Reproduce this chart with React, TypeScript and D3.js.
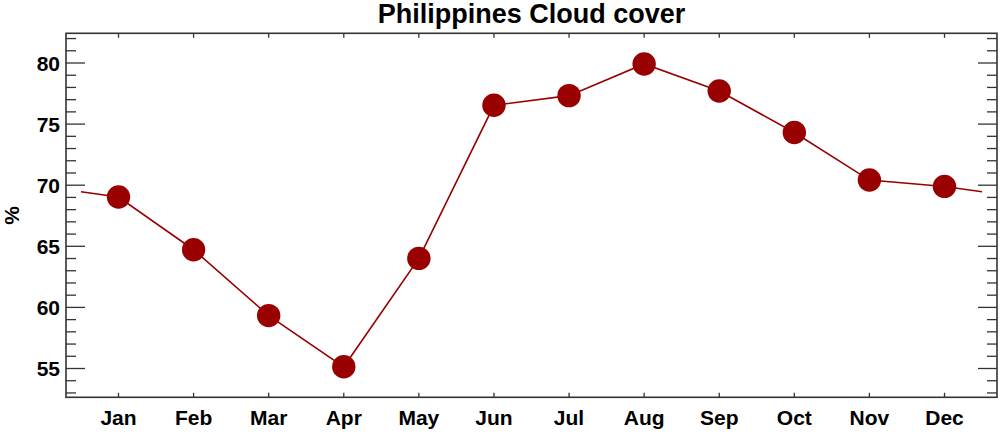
import React from "react";
import * as d3 from "d3";

const months = ["Jan", "Feb", "Mar", "Apr", "May", "Jun", "Jul", "Aug", "Sep", "Oct", "Nov", "Dec"];
const cloudCover = [69.03, 64.72, 59.33, 55.14, 64.01, 76.54, 77.33, 79.92, 77.71, 74.31, 70.42, 69.9];
const yMajorTicks = [55, 60, 65, 70, 75, 80];
const yMinorTicks = d3.range(53, 83, 1);
const title = "Philippines Cloud cover";
const yLabel = "%";

const W = 1000;
const H = 433;
const plot = { left: 66, right: 997, top: 33.3, bottom: 397.3 };
const font = "'Liberation Sans', Arial, Helvetica, sans-serif";
const red = "#990000";
const axisColor = "#333333";

export default function App() {
  const x = d3.scaleLinear().domain([0, 11]).range([118.5, 944.5]);
  const y = d3.scaleLinear().domain([55, 80]).range([368.5, 63]);

  const wrap = (cloudCover[0] + cloudCover[11]) / 2;
  const linePts: [number, number][] = [
    [-0.5, wrap],
    ...cloudCover.map((v, i) => [i, v] as [number, number]),
    [11.5, wrap],
  ];
  const line = d3
    .line<[number, number]>()
    .x((d) => x(d[0]))
    .y((d) => y(d[1]));

  return (
    <svg
      width={W}
      height={H}
      style={{ position: "absolute", left: 0, top: 0, background: "#fff" }}
      fontFamily={font}
    >
      <rect x={0} y={0} width={W} height={H} fill="#fff" />
      <text
        x={(plot.left + plot.right) / 2}
        y={22.5}
        textAnchor="middle"
        fontSize={27}
        fontWeight="bold"
        fill="#000"
      >
        {title}
      </text>

      {/* y ticks left & right */}
      {yMinorTicks.map((t) => {
        const major = t % 5 === 0;
        const len = major ? 19 : 10;
        const yy = y(t);
        return (
          <g key={"yt" + t}>
            <line x1={plot.left} x2={plot.left + len} y1={yy} y2={yy} stroke={axisColor} strokeWidth={1.3} />
            <line x1={plot.right} x2={plot.right - len} y1={yy} y2={yy} stroke={axisColor} strokeWidth={1.3} />
          </g>
        );
      })}
      {yMajorTicks.map((t) => (
        <text
          key={"yl" + t}
          x={60}
          y={y(t) + 7.5}
          textAnchor="end"
          fontSize={21}
          fontWeight="bold"
          fill="#000"
        >
          {t}
        </text>
      ))}

      {/* x ticks bottom & top */}
      {months.map((m, i) => (
        <g key={"xt" + m}>
          <line x1={x(i)} x2={x(i)} y1={plot.bottom} y2={plot.bottom - 4.5} stroke={axisColor} strokeWidth={1.3} />
          <line x1={x(i)} x2={x(i)} y1={plot.top} y2={plot.top + 4.5} stroke={axisColor} strokeWidth={1.3} />
          <text x={x(i)} y={425} textAnchor="middle" fontSize={21} fontWeight="bold" fill="#000">
            {m}
          </text>
        </g>
      ))}

      <rect
        x={plot.left}
        y={plot.top}
        width={plot.right - plot.left}
        height={plot.bottom - plot.top}
        fill="none"
        stroke={axisColor}
        strokeWidth={1.6}
      />

      <text
        transform={`translate(18.5, ${(plot.top + plot.bottom) / 2}) rotate(-90)`}
        textAnchor="middle"
        fontSize={21}
        fontWeight="bold"
        fill="#000"
      >
        {yLabel}
      </text>

      <path d={line(linePts) || ""} fill="none" stroke={red} strokeWidth={1.6} />
      {cloudCover.map((v, i) => (
        <circle key={"pt" + i} cx={x(i)} cy={y(v)} r={11.7} fill={red} />
      ))}
    </svg>
  );
}
